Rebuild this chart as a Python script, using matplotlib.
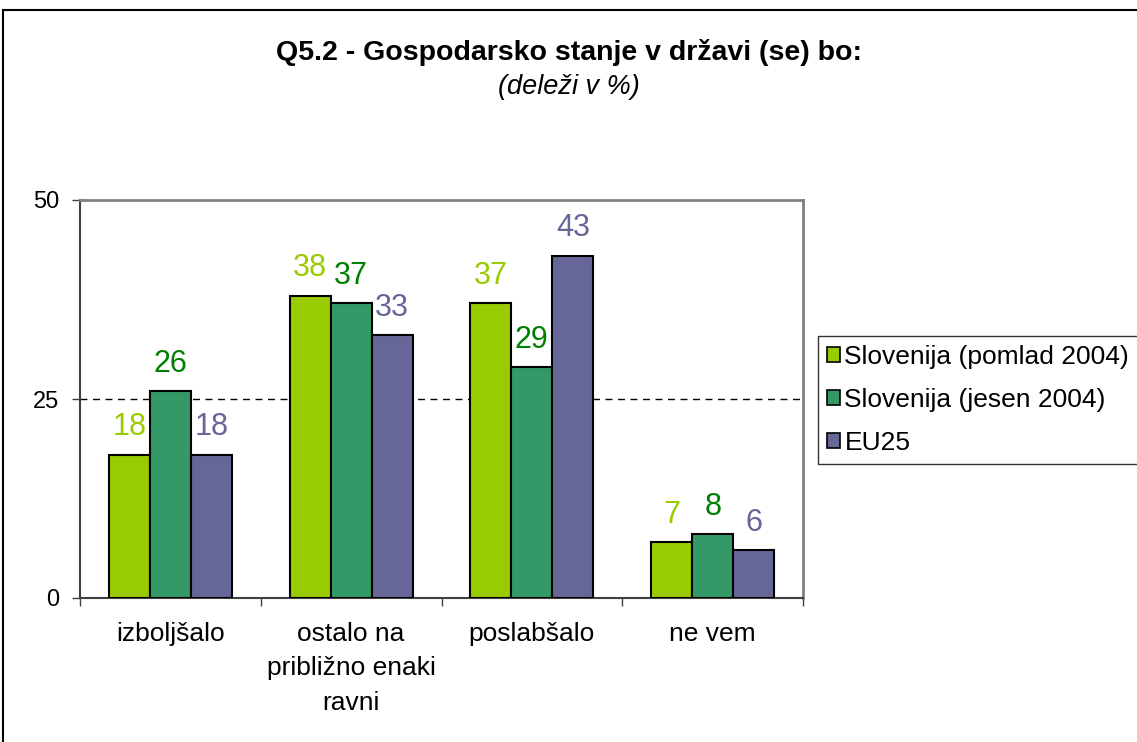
import numpy as np
import matplotlib
matplotlib.use("Agg")
import matplotlib.pyplot as plt
from matplotlib.patches import Rectangle

plt.rcParams['font.family'] = ['Liberation Sans', 'DejaVu Sans']

# Data
categories = ["izboljšalo", "ostalo na\npribližno enaki\nravni", "poslabšalo", "ne vem"]
series_names = ["Slovenija (pomlad 2004)", "Slovenija (jesen 2004)", "EU25"]
spring_2004 = [18, 38, 37, 7]
autumn_2004 = [26, 37, 29, 8]
eu25 = [18, 33, 43, 6]

bar_colors = ["#99CC00", "#339966", "#666699"]
label_colors = ["#99CC00", "#008000", "#666699"]

fig = plt.figure(figsize=(11.37, 7.42), dpi=100)
ax = fig.add_axes([80 / 1137, 1 - 598 / 742, 723 / 1137, 398 / 742])

x = np.arange(len(categories))
width = 0.227
for i, (vals, name) in enumerate(zip([spring_2004, autumn_2004, eu25], series_names)):
    pos = x + (i - 1) * width
    ax.bar(pos, vals, width, color=bar_colors[i], edgecolor="black", linewidth=1.5,
           label=name, zorder=3)
    for px, v in zip(pos, vals):
        ax.annotate(str(v), (px, v), xytext=(0, 9), textcoords="offset points",
                    ha="center", va="bottom", fontsize=22, color=label_colors[i])

ax.axhline(25, color="black", linewidth=1, dashes=(5, 4), zorder=1)

ax.set_xlim(-0.5, 3.5)
ax.set_ylim(0, 50)
ax.set_yticks([0, 25, 50])
ax.tick_params(axis="y", labelsize=17, length=6, width=1, pad=9, color="#404040")
ax.set_xticks(x)
ax.set_xticklabels(categories, fontsize=19, linespacing=1.55)
ax.tick_params(axis="x", length=0, pad=17)
ax.set_xticks(np.arange(-0.5, 4, 1), minor=True)
ax.tick_params(axis="x", which="minor", length=6, width=1, color="#404040")

for s in ["top", "right"]:
    ax.spines[s].set_color("#808080")
    ax.spines[s].set_linewidth(2)
for s in ["left", "bottom"]:
    ax.spines[s].set_color("#404040")
    ax.spines[s].set_linewidth(1.5)

leg = ax.legend(loc="upper left", bbox_to_anchor=(818 / 1137, 1 - 336 / 742),
                bbox_transform=fig.transFigure, fontsize=19, frameon=True,
                fancybox=False, edgecolor="black", handlelength=0.5, handleheight=0.5,
                handletextpad=0.15, labelspacing=0.72, borderpad=0.35, borderaxespad=0)
leg.get_frame().set_linewidth(1)
for h in leg.legend_handles:
    h.set_linewidth(1.2)

fig.text(0.5, 1 - 52 / 742, "Q5.2 - Gospodarsko stanje v državi (se) bo:",
         ha="center", va="center", fontsize=20.5, fontweight="bold")
fig.text(0.5, 1 - 87 / 742, "(deleži v %)", ha="center", va="center",
         fontsize=19.5, style="italic")

# outer chart border (cut off at right and bottom)
fig.patches.append(Rectangle((3 / 1137, -0.05), 1.1, 1 - 10 / 742 + 0.05,
                             transform=fig.transFigure, fill=False,
                             edgecolor="black", linewidth=1.5))

fig.savefig("out.png", dpi=100)
